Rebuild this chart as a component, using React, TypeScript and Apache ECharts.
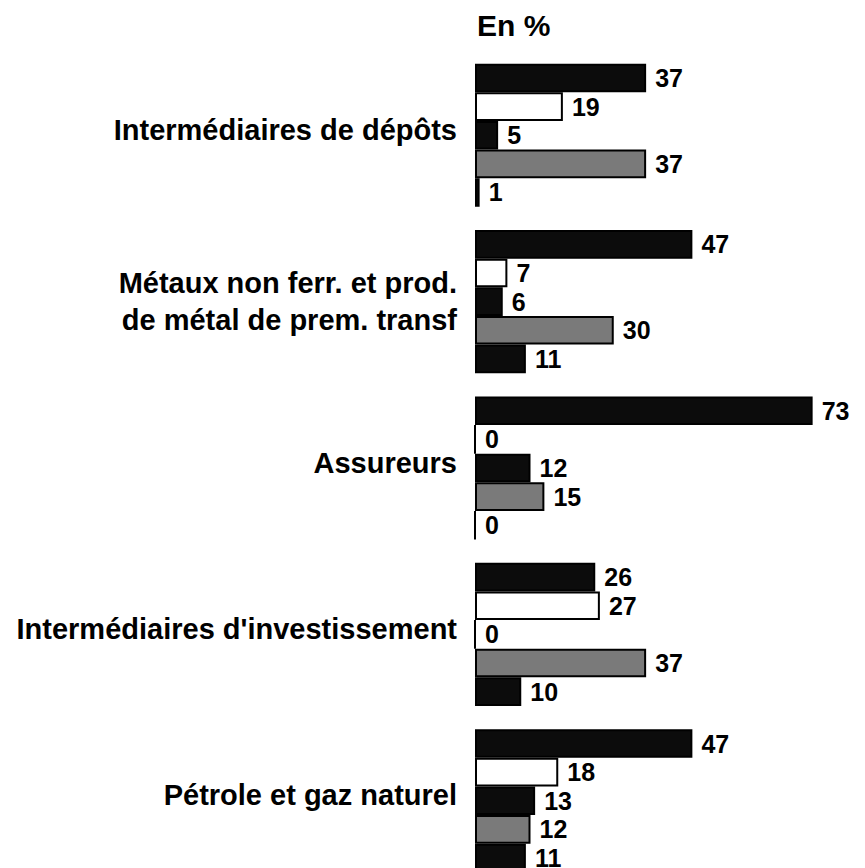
import React, { useEffect, useRef } from "react";
import * as echarts from "echarts";

const categories = [
  "Intermédiaires de dépôts",
  "Métaux non ferr. et prod.\nde métal de prem. transf",
  "Assureurs",
  "Intermédiaires d'investissement",
  "Pétrole et gaz naturel",
];
const series1 = [37, 47, 73, 26, 47];
const series2 = [19, 7, 0, 27, 18];
const series3 = [5, 6, 12, 0, 13];
const series4 = [37, 30, 15, 37, 12];
const series5 = [1, 11, 0, 10, 11];
const unitLabel = "En %";

const FONT = "'Liberation Sans', Arial, sans-serif";

export default function App() {
  const ref = useRef<HTMLDivElement>(null);
  useEffect(() => {
    if (!ref.current) return;
    const chart = echarts.init(ref.current, null, { renderer: "svg" });
    const label = {
      show: true,
      position: "right",
      distance: 9,
      color: "#000",
      fontFamily: FONT,
      fontWeight: "bold",
      fontSize: 25,
    };
    const mk = (data: number[], color: string) => ({
      type: "bar",
      data,
      barGap: "0%",
      barCategoryGap: "14%",
      itemStyle: {
        color,
        borderColor: "#000",
        borderWidth: 2,
      },
      label,
    });
    chart.setOption({
      animation: false,
      backgroundColor: "#fff",
      grid: { left: 475, right: 20, top: 52, bottom: 0, containLabel: false },
      xAxis: {
        type: "value",
        min: 0,
        max: 80,
        show: false,
      },
      yAxis: {
        type: "category",
        data: categories,
        inverse: true,
        axisLine: { show: false },
        axisTick: { show: false },
        axisLabel: {
          margin: 18,
          color: "#000",
          fontFamily: FONT,
          fontWeight: "bold",
          fontSize: 29,
          lineHeight: 37,
          align: "right",
          formatter: (v: string) =>
            v.indexOf("\n") >= 0 ? v : "{u|" + v + "}",
          rich: {
            u: {
              color: "#000",
              fontFamily: FONT,
              fontWeight: "bold",
              fontSize: 29,
              lineHeight: 37,
              padding: [0, 0, 11, 0],
            },
          },
        },
      },
      graphic: [
        {
          type: "text",
          x: 477,
          y: 25,
          style: {
            text: unitLabel,
            fill: "#000",
            font: `bold 30px ${FONT}`,
            verticalAlign: "middle",
          },
        },
      ],
      series: [
        mk(series1, "#0c0c0c"),
        mk(series2, "#ffffff"),
        mk(series3, "#0c0c0c"),
        mk(series4, "#7a7a7a"),
        mk(series5, "#0c0c0c"),
      ],
    });
    return () => chart.dispose();
  }, []);
  return (
    <div
      ref={ref}
      style={{ position: "fixed", left: 0, top: 0, width: 865, height: 884 }}
    />
  );
}
